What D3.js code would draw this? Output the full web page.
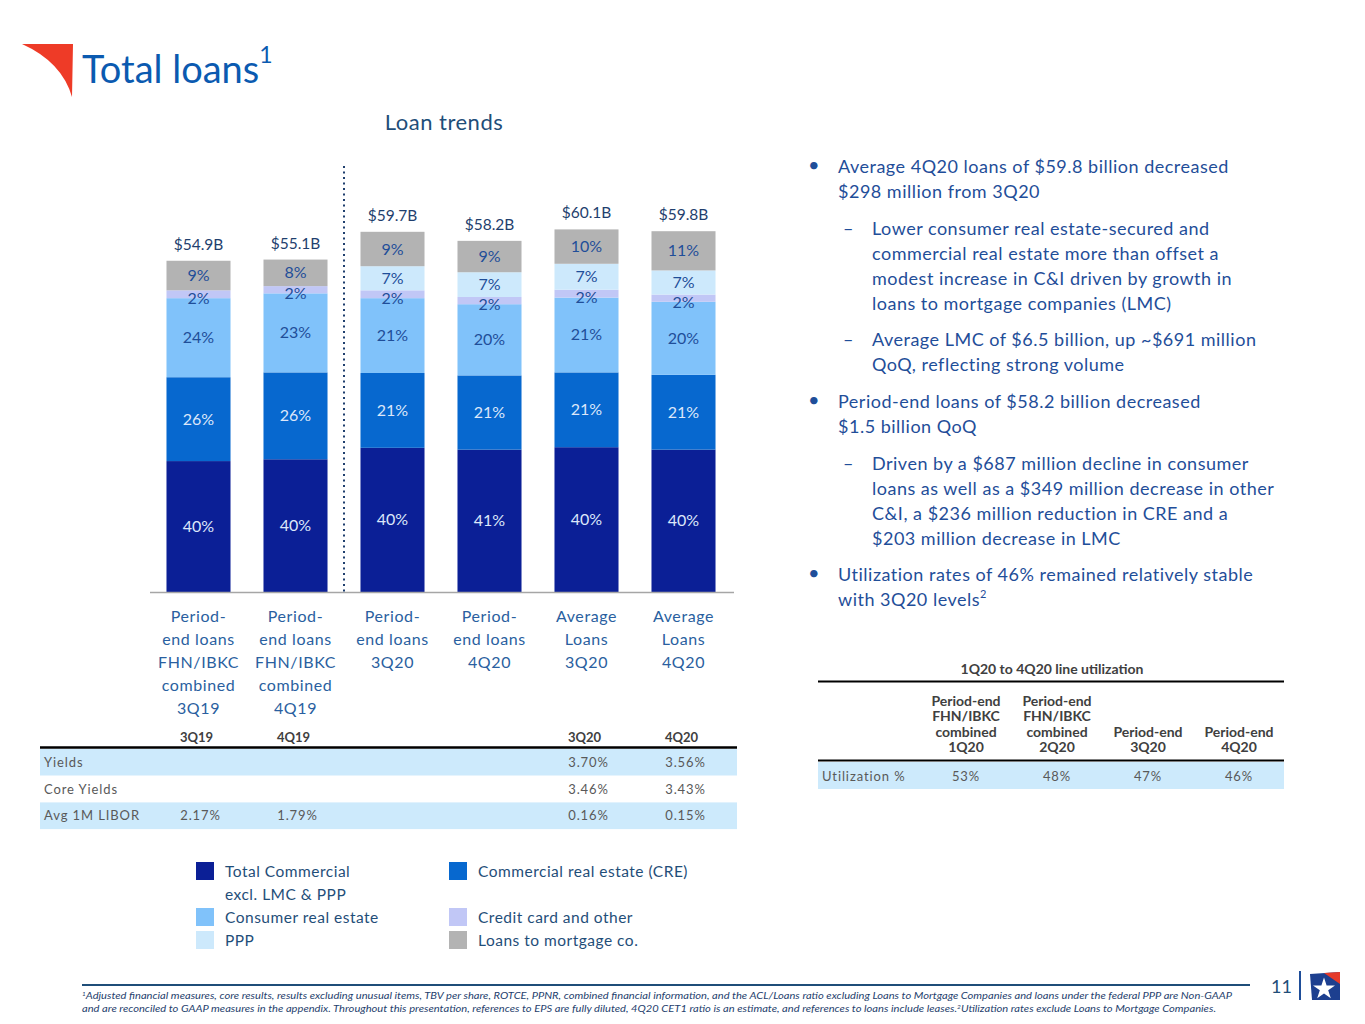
<!DOCTYPE html>
<meta charset="utf-8">
<style>
body { margin: 0; background: #fff; }
svg { font-family: Lato, "Open Sans", sans-serif; }
.seg-label { font-size: 16px; text-anchor: middle; }
.total-label { font-size: 15.5px; fill: #1f3f6e; text-anchor: middle; }
.cat-label { font-size: 16px; fill: #2a5fa0; text-anchor: middle; letter-spacing: 0.6px; }
.tbl { font-size: 13px; fill: #595959; letter-spacing: 0.9px; }
.tbl-head { font-size: 13px; font-weight: bold; fill: #404040; text-anchor: middle; }
.bullet { font-size: 18px; fill: #1f4e99; letter-spacing: 0.5px; }
.legend text { font-size: 15.5px; fill: #1f4e79; letter-spacing: 0.5px; }
.foot { font-size: 10.3px; font-style: italic; fill: #1f3f6e; }
</style>
<svg width="1365" height="1024"></svg>
<script src="https://d3js.org/d3.v7.min.js"></script>
<script>

// bar categories (label lines)
var categories = ["pe3Q19", "pe4Q19", "pe3Q20", "pe4Q20", "avg3Q20", "avg4Q20"];
var catLines = [
  ["Period-", "end loans", "FHN/IBKC", "combined", "3Q19"],
  ["Period-", "end loans", "FHN/IBKC", "combined", "4Q19"],
  ["Period-", "end loans", "3Q20"],
  ["Period-", "end loans", "4Q20"],
  ["Average", "Loans", "3Q20"],
  ["Average", "Loans", "4Q20"]
];
var totals = ["$54.9B", "$55.1B", "$59.7B", "$58.2B", "$60.1B", "$59.8B"];

// segment balances, $B
var totalCommercial = [21.7, 22.0, 23.9, 23.6, 24.0, 23.6];
var cre             = [13.9, 14.4, 12.4, 12.3, 12.4, 12.4];
var consumerRE      = [13.1, 13.1, 12.4, 11.8, 12.4, 12.1];
var creditCard      = [1.3, 1.2, 1.3, 1.2, 1.3, 1.2];
var ppp             = [0, 0, 4.0, 4.1, 4.3, 4.0];
var lmc             = [4.9, 4.4, 5.7, 5.2, 5.7, 6.5];

// printed percentage labels
var tcPct   = [40, 40, 40, 41, 40, 40];
var crePct  = [26, 26, 21, 21, 21, 21];
var consPct = [24, 23, 21, 20, 21, 20];
var ccPct   = [2, 2, 2, 2, 2, 2];
var pppPct  = [null, null, 7, 7, 7, 7];
var lmcPct  = [9, 8, 9, 9, 10, 11];

var seriesNames = ["Total Commercial excl. LMC & PPP", "Commercial real estate (CRE)",
  "Consumer real estate", "Credit card and other", "PPP", "Loans to mortgage co."];
var seriesKeys = ["tc", "cre", "cons", "cc", "ppp", "lmc"];
var seriesColors = ["#0b1f96", "#0768cf", "#80c2fa", "#c1c7f6", "#cde9fc", "#b3b3b3"];

// yields table
var yieldCols = ["3Q19", "4Q19", "3Q20", "4Q20"];
var yieldRows = [
  ["Yields", "", "", "3.70%", "3.56%"],
  ["Core Yields", "", "", "3.46%", "3.43%"],
  ["Avg 1M LIBOR", "2.17%", "1.79%", "0.16%", "0.15%"]
];

// utilization table
var utilHeads = [
  ["Period-end", "FHN/IBKC", "combined", "1Q20"],
  ["Period-end", "FHN/IBKC", "combined", "2Q20"],
  ["Period-end", "3Q20"],
  ["Period-end", "4Q20"]
];
var utilValues = ["53%", "48%", "47%", "46%"];

var svg = d3.select("svg");

// ---- header ----
svg.append("path")
    .attr("d", "M22,44 L73,44 L72,97 Q62,62 22,44 Z")
    .attr("fill", "#ee3b27");
svg.append("text")
    .attr("x", 82).attr("y", 83)
    .style("font-size", "38px").style("fill", "#0b5ab0")
    .text("Total loans")
  .append("tspan")
    .attr("dy", -20).style("font-size", "23px")
    .text("1");

svg.append("text")
    .attr("x", 444).attr("y", 130)
    .attr("text-anchor", "middle")
    .style("font-size", "22px").style("fill", "#1f4e79").style("letter-spacing", "0.5px")
    .text("Loan trends");

// ---- bar chart ----
var rows = categories.map(function(c, i) {
  return {cat: c, tc: totalCommercial[i], cre: cre[i], cons: consumerRE[i],
          cc: creditCard[i], ppp: ppp[i], lmc: lmc[i]};
});
var pctLookup = {tc: tcPct, cre: crePct, cons: consPct, cc: ccPct, ppp: pppPct, lmc: lmcPct};

var x = d3.scaleBand()
    .domain(categories)
    .range([150, 732])
    .paddingInner(0.34)
    .paddingOuter(0.17);

var y = d3.scaleLinear()
    .domain([0, 60])
    .range([592, 230]);

var stack = d3.stack().keys(seriesKeys);
var layers = stack(rows);

var layer = svg.append("g").selectAll("g")
  .data(layers)
  .enter().append("g")
    .attr("fill", function(d, i) { return seriesColors[i]; });

layer.selectAll("rect")
  .data(function(d) { return d; })
  .enter().append("rect")
    .attr("x", function(d) { return x(d.data.cat); })
    .attr("width", x.bandwidth())
    .attr("y", function(d) { return y(d[1]); })
    .attr("height", function(d) { return y(d[0]) - y(d[1]); });

layer.each(function(L, li) {
  var key = L.key;
  d3.select(this).selectAll("text")
    .data(L.filter(function(d, i) { return pctLookup[key][i] != null; }))
    .enter().append("text")
      .attr("class", "seg-label")
      .attr("x", function(d) { return x(d.data.cat) + x.bandwidth() / 2; })
      .attr("y", function(d) {
        var mid = (y(d[0]) + y(d[1])) / 2;
        return mid + 5.5 + (key === "cc" ? 4 : 0);
      })
      .style("fill", li < 2 ? "#dde7fa" : "#1f4e99")
      .text(function(d) { return pctLookup[key][categories.indexOf(d.data.cat)] + "%"; });
});

// totals above bars
svg.append("g").selectAll("text")
  .data(rows)
  .enter().append("text")
    .attr("class", "total-label")
    .attr("x", function(d) { return x(d.cat) + x.bandwidth() / 2; })
    .attr("y", function(d) { return y(d.tc + d.cre + d.cons + d.cc + d.ppp + d.lmc) - 11; })
    .text(function(d, i) { return totals[i]; });

// baseline
svg.append("line")
    .attr("x1", 150).attr("x2", 734)
    .attr("y1", y(0) + 0.5).attr("y2", y(0) + 0.5)
    .attr("stroke", "#a6a6a6").attr("stroke-width", 1.5);

// dotted separator between combined and reported periods
var sepX = x(categories[2]) - x.step() * x.paddingInner() / 2;
svg.append("line")
    .attr("x1", sepX).attr("x2", sepX)
    .attr("y1", 166).attr("y2", y(0))
    .attr("stroke", "#1f3f6e").attr("stroke-width", 2)
    .attr("stroke-dasharray", "2,3.5");

// category labels
svg.append("g").selectAll("text")
  .data(categories)
  .enter().append("text")
    .attr("class", "cat-label")
    .attr("x", function(d) { return x(d) + x.bandwidth() / 2; })
    .attr("y", 622)
  .selectAll("tspan")
  .data(function(d, i) { return catLines[i]; })
  .enter().append("tspan")
    .attr("x", function() { return d3.select(this.parentNode).attr("x"); })
    .attr("dy", function(d, i) { return i === 0 ? 0 : 23; })
    .text(function(d) { return d; });

// ---- yields table ----
var colX = [x(categories[0]), x(categories[1]), x(categories[4]), x(categories[5])]
    .map(function(v) { return v + x.bandwidth() / 2; });

svg.append("g").selectAll("text")
  .data(yieldCols)
  .enter().append("text")
    .attr("class", "tbl-head")
    .attr("x", function(d, i) { return colX[i] - 2; })
    .attr("y", 742)
    .text(function(d) { return d; });

svg.append("line")
    .attr("x1", 40).attr("x2", 737).attr("y1", 747.5).attr("y2", 747.5)
    .attr("stroke", "#000").attr("stroke-width", 2.5);

var rowH = 26.7;
var yr = svg.append("g").selectAll("g")
  .data(yieldRows)
  .enter().append("g")
    .attr("transform", function(d, i) { return "translate(0," + (749 + i * rowH) + ")"; });

yr.append("rect")
    .attr("x", 40).attr("width", 697).attr("height", rowH)
    .attr("fill", function(d, i) { return i % 2 === 0 ? "#cdeafc" : "#fff"; });

yr.append("text")
    .attr("class", "tbl")
    .attr("x", 44).attr("y", rowH / 2 + 4.5)
    .text(function(d) { return d[0]; });

yr.selectAll("text.val")
  .data(function(d) { return d.slice(1); })
  .enter().append("text")
    .attr("class", "tbl val")
    .attr("text-anchor", "middle")
    .attr("x", function(d, i) { return colX[i] + 2; })
    .attr("y", rowH / 2 + 4.5)
    .text(function(d) { return d; });

// ---- legend ----
var legendPos = [[196, 862], [449, 862], [196, 908], [449, 908], [196, 931], [449, 931]];
var legendLines = [["Total Commercial", "excl. LMC & PPP"], ["Commercial real estate (CRE)"],
  ["Consumer real estate"], ["Credit card and other"], ["PPP"], ["Loans to mortgage co."]];

var lg = svg.append("g").attr("class", "legend").selectAll("g")
  .data(seriesNames)
  .enter().append("g")
    .attr("transform", function(d, i) { return "translate(" + legendPos[i][0] + "," + legendPos[i][1] + ")"; });

lg.append("rect")
    .attr("width", 18).attr("height", 18)
    .attr("fill", function(d, i) { return seriesColors[i]; });

lg.append("text")
    .attr("x", 29).attr("y", 15)
  .selectAll("tspan")
  .data(function(d, i) { return legendLines[i]; })
  .enter().append("tspan")
    .attr("x", 29)
    .attr("dy", function(d, i) { return i === 0 ? 0 : 23; })
    .text(function(d) { return d; });

// ---- bullets ----
var bullets = [
  {lvl: 0, y: 173, lines: ["Average 4Q20 loans of $59.8 billion decreased", "$298 million from 3Q20"]},
  {lvl: 1, y: 235, lines: ["Lower consumer real estate-secured and", "commercial real estate more than offset a",
    "modest increase in C&I driven by growth in", "loans to mortgage companies (LMC)"]},
  {lvl: 1, y: 346, lines: ["Average LMC of $6.5 billion, up ~$691 million", "QoQ, reflecting strong volume"]},
  {lvl: 0, y: 408, lines: ["Period-end loans of $58.2 billion decreased", "$1.5 billion QoQ"]},
  {lvl: 1, y: 470, lines: ["Driven by a $687 million decline in consumer", "loans as well as a $349 million decrease in other",
    "C&I, a $236 million reduction in CRE and a", "$203 million decrease in LMC"]},
  {lvl: 0, y: 581, lines: ["Utilization rates of 46% remained relatively stable", "with 3Q20 levels"], sup: "2"}
];

var bg = svg.append("g").selectAll("g")
  .data(bullets)
  .enter().append("g");

bg.append("text")
    .attr("class", "bullet")
    .attr("x", function(d) { return d.lvl === 0 ? 808 : 843; })
    .attr("y", function(d) { return d.y - (d.lvl === 0 ? 1 : 0); })
    .style("font-size", function(d) { return d.lvl === 0 ? "20px" : "18px"; })
    .text(function(d) { return d.lvl === 0 ? "\u2022" : "\u2013"; });

bg.each(function(d) {
  var t = d3.select(this).append("text")
      .attr("class", "bullet")
      .attr("y", d.y);
  d.lines.forEach(function(line, i) {
    t.append("tspan")
        .attr("x", d.lvl === 0 ? 838 : 872)
        .attr("dy", i === 0 ? 0 : 25)
        .text(line);
  });
  if (d.sup) {
    t.append("tspan").attr("dy", -8).style("font-size", "11px").text(d.sup);
  }
});

// ---- utilization table ----
var ux = [966, 1057, 1148, 1239];
svg.append("text")
    .attr("x", 1052).attr("y", 674)
    .attr("text-anchor", "middle")
    .style("font-size", "14px").style("font-weight", "bold").style("fill", "#404040")
    .text("1Q20 to 4Q20 line utilization");

svg.append("line")
    .attr("x1", 818).attr("x2", 1284).attr("y1", 681.5).attr("y2", 681.5)
    .attr("stroke", "#000").attr("stroke-width", 2);

svg.append("g").selectAll("text")
  .data(utilHeads)
  .enter().append("text")
    .attr("class", "tbl-head")
    .style("font-size", "14px")
    .attr("y", function(d) { return 752 - (d.length - 1) * 15.5; })
  .selectAll("tspan")
  .data(function(d, i) { return d.map(function(s) { return {s: s, i: i}; }); })
  .enter().append("tspan")
    .attr("x", function(d) { return ux[d.i]; })
    .attr("dy", function(d, j) { return j === 0 ? 0 : 15.5; })
    .text(function(d) { return d.s; });

svg.append("line")
    .attr("x1", 818).attr("x2", 1284).attr("y1", 760.5).attr("y2", 760.5)
    .attr("stroke", "#000").attr("stroke-width", 2);

svg.append("rect")
    .attr("x", 818).attr("y", 762).attr("width", 466).attr("height", 27)
    .attr("fill", "#cdeafc");

svg.append("text")
    .attr("class", "tbl").attr("x", 822).attr("y", 781)
    .text("Utilization %");

svg.append("g").selectAll("text")
  .data(utilValues)
  .enter().append("text")
    .attr("class", "tbl")
    .attr("text-anchor", "middle")
    .attr("x", function(d, i) { return ux[i]; })
    .attr("y", 781)
    .text(function(d) { return d; });

// ---- footer ----
svg.append("line")
    .attr("x1", 82).attr("x2", 1250).attr("y1", 985).attr("y2", 985)
    .attr("stroke", "#1f4e79").attr("stroke-width", 2);

var foot = svg.append("text").attr("class", "foot").attr("x", 82).attr("y", 999)
    .attr("textLength", 1150).attr("lengthAdjust", "spacingAndGlyphs");
foot.append("tspan").attr("dy", -3).style("font-size", "6px").text("1");
foot.append("tspan").attr("dy", 3)
    .text("Adjusted financial measures, core results, results excluding unusual items, TBV per share, ROTCE, PPNR, combined financial information, and the ACL/Loans ratio excluding Loans to Mortgage Companies and loans under the federal PPP are Non-GAAP");
var foot2 = svg.append("text").attr("class", "foot").attr("x", 82).attr("y", 1012)
    .attr("textLength", 1134).attr("lengthAdjust", "spacingAndGlyphs");
foot2.append("tspan")
    .text("and are reconciled to GAAP measures in the appendix. Throughout this presentation, references to EPS are fully diluted, 4Q20 CET1 ratio is an estimate, and references to loans include leases.");
foot2.append("tspan").attr("dy", -3).style("font-size", "6px").text("2");
foot2.append("tspan").attr("dy", 3).text("Utilization rates exclude Loans to Mortgage Companies.");

svg.append("text")
    .attr("x", 1292).attr("y", 993)
    .attr("text-anchor", "end")
    .style("font-size", "18px").style("fill", "#1f4e79")
    .text("11");
svg.append("line")
    .attr("x1", 1300).attr("x2", 1300).attr("y1", 971).attr("y2", 1000)
    .attr("stroke", "#1f4e99").attr("stroke-width", 2);

// small star-flag logo
var logo = svg.append("g").attr("transform", "translate(1310,972)");
logo.append("path").attr("d", "M0,2 L30,0 L30,28 L2,28 Z").attr("fill", "#1d3f8f");
logo.append("path").attr("d", "M14,1 L30,0 L30,12 Z").attr("fill", "#e53a2a");
logo.append("path")
    .attr("d", d3.symbol().type(d3.symbolStar).size(150)())
    .attr("transform", "translate(14,17)")
    .attr("fill", "#fff");

</script>
